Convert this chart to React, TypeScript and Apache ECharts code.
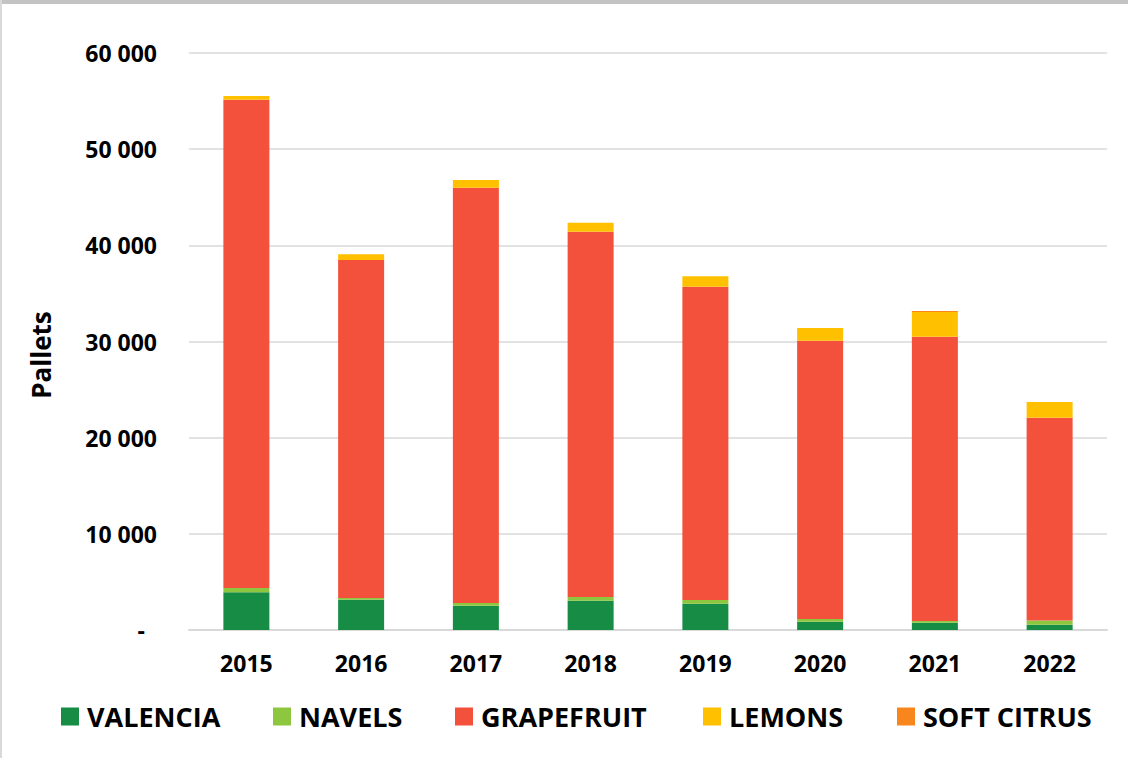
import React, { useEffect, useRef } from "react";
import * as echarts from "echarts";

const years = ["2015", "2016", "2017", "2018", "2019", "2020", "2021", "2022"];
const valencia = [3920, 3150, 2530, 3050, 2740, 860, 760, 550];
const navels = [450, 180, 280, 380, 380, 280, 180, 450];
const grapefruit = [50780, 35150, 43190, 37990, 32580, 28950, 29560, 21080];
const lemons = [380, 590, 800, 940, 1080, 1320, 2570, 1630];
const softCitrus = [0, 0, 0, 0, 0, 0, 100, 0];
const yTicks = [0, 10000, 20000, 30000, 40000, 50000, 60000];

const seriesNames = ["VALENCIA", "NAVELS", "GRAPEFRUIT", "LEMONS", "SOFT CITRUS"];
const seriesColors = ["#178C45", "#8DC63F", "#F4513D", "#FFC000", "#F9861D"];
const seriesData = [valencia, navels, grapefruit, lemons, softCitrus];
const legendLefts = [56, 268, 450, 698, 892];

const FONT = "'Open Sans', 'Noto Sans', sans-serif";

function fmt(v: number): string {
  if (v === 0) return "{z|-}";
  const s = String(Math.round(v));
  return s.replace(/\B(?=(\d{3})+(?!\d))/g, " ");
}

export default function App() {
  const ref = useRef<HTMLDivElement>(null);
  useEffect(() => {
    document.body.style.margin = "0";
    if (!ref.current) return;
    const chart = echarts.init(ref.current, undefined, { renderer: "svg" });
    chart.setOption({
      animation: false,
      backgroundColor: "#ffffff",
      textStyle: { fontFamily: FONT },
      grid: { left: 189, right: 21, top: 53, bottom: 128, containLabel: false },
      legend: seriesNames.map((n, i) => ({
        data: [n],
        left: legendLefts[i],
        top: 698,
        itemWidth: 18,
        itemHeight: 18,
        icon: "rect",
        selectedMode: false,
        textStyle: {
          fontFamily: FONT,
          fontWeight: "bold",
          fontSize: 27,
          color: "#000",
          padding: [0, 0, 0, 3],
        },
      })),
      xAxis: {
        type: "category",
        data: years,
        axisTick: { show: false },
        axisLine: { lineStyle: { color: "#d9d9d9", width: 2 } },
        axisLabel: {
          fontFamily: FONT,
          fontWeight: "bold",
          fontSize: 23,
          color: "#000",
          margin: 21,
        },
      },
      yAxis: {
        type: "value",
        min: yTicks[0],
        max: yTicks[yTicks.length - 1],
        interval: 10000,
        name: "Pallets",
        nameLocation: "middle",
        nameRotate: 90,
        nameGap: 135,
        nameTextStyle: {
          fontFamily: FONT,
          fontWeight: "bold",
          fontSize: 26,
          color: "#000",
          padding: [0, 27, 0, 0],
        },
        axisLine: { show: false },
        axisTick: { show: false },
        splitLine: { lineStyle: { color: "#d9d9d9", width: 1.5 } },
        axisLabel: {
          fontFamily: FONT,
          fontWeight: "bold",
          fontSize: 23,
          color: "#000",
          margin: 32,
          formatter: fmt,
          rich: {
            z: {
              fontFamily: FONT,
              fontWeight: "bold",
              fontSize: 23,
              color: "#000",
              padding: [0, 12, 0, 0],
            },
          },
        },
      },
      series: seriesNames.map((n, i) => ({
        name: n,
        type: "bar",
        stack: "total",
        barWidth: 46,
        data: seriesData[i],
        itemStyle: { color: seriesColors[i] },
      })),
      graphic: [
        { type: "rect", shape: { x: 0, y: 0, width: 1128, height: 4 }, style: { fill: "#c3c3c3" }, silent: true },
        { type: "rect", shape: { x: 0, y: 0, width: 2, height: 758 }, style: { fill: "#d9d9d9" }, silent: true },
      ],
    });
    return () => chart.dispose();
  }, []);
  return <div ref={ref} style={{ width: 1128, height: 758 }} />;
}
